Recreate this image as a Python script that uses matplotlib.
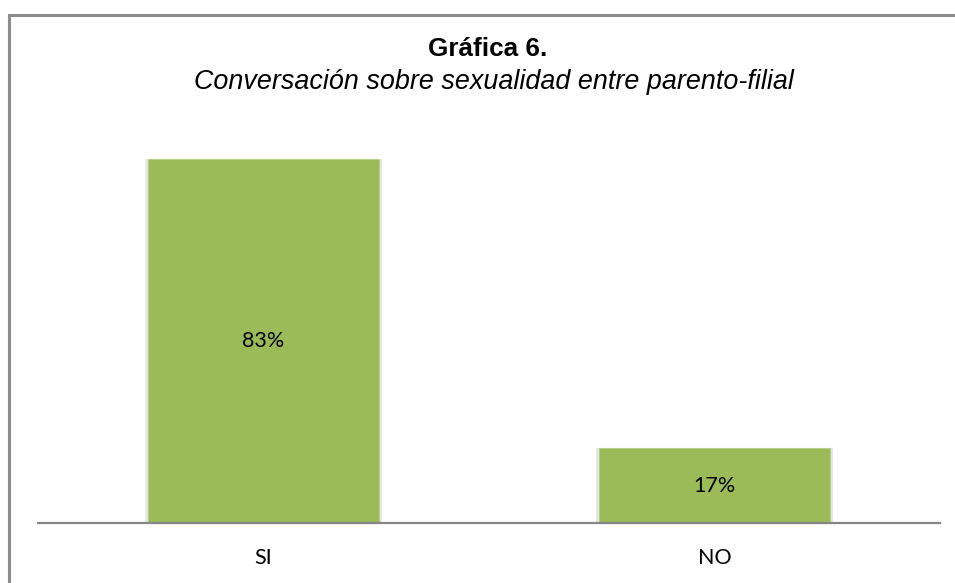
import matplotlib
matplotlib.use("Agg")
import matplotlib.pyplot as plt
from matplotlib.patches import Rectangle

categories = ["SI", "NO"]
values = [83, 17]
value_labels = ["83%", "17%"]

title = "Gráfica 6."
subtitle = "Conversación sobre sexualidad entre parento-filial"

bar_color = "#9BBB59"

fig = plt.figure(figsize=(9.55, 5.83), dpi=100)

# outer chart border (partially cut off at right/bottom like the reference)
fig.patches.append(Rectangle((9 / 955, -0.05), 1.2, 1 - 14.5 / 583 + 0.05,
                             transform=fig.transFigure, fill=False,
                             edgecolor="#8c8c8c", linewidth=2.2))

ax = fig.add_axes([38 / 955, 1 - 523 / 583, (940 - 38) / 955, (523 - 128) / 583])
x = range(len(categories))
# soft shadow
ax.bar(x, values, width=0.525, color="#e6e6e6", zorder=1)
ax.bar(x, values, width=0.51, color=bar_color, edgecolor="#b5cf85",
       linewidth=0.8, zorder=2)
ax.set_xlim(-0.5, 1.5)
ax.set_ylim(0, 90)

for xi, v, lab in zip(x, values, value_labels):
    ax.text(xi, v / 2, lab, ha="center", va="center", fontsize=15.5,
            family="Lato", color="#000000", zorder=3)

ax.set_xticks(list(x))
ax.set_xticklabels(categories, fontsize=15.5, family="Lato")
ax.tick_params(axis="x", length=0, pad=18)
ax.set_yticks([])
for s in ["top", "right", "left"]:
    ax.spines[s].set_visible(False)
ax.spines["bottom"].set_color("#868686")
ax.spines["bottom"].set_linewidth(1.6)

fig.text(488 / 955, 1 - 49 / 583, title, ha="center", va="center",
         fontsize=18.8, fontweight="bold", family="Liberation Sans")
fig.text(494 / 955, 1 - 82 / 583, subtitle, ha="center", va="center",
         fontsize=19.4, style="italic", family="Liberation Sans")

fig.savefig("out.png", dpi=100)
